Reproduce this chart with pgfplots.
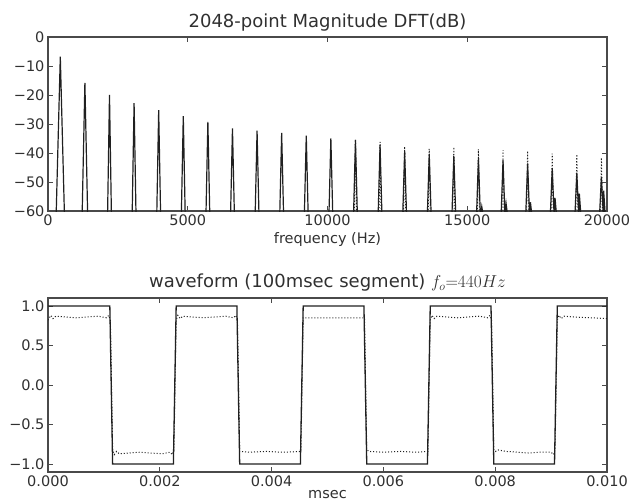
\documentclass[border=0pt]{standalone}
\usepackage{fontspec}
\setmainfont{DejaVu Sans}
\usepackage{pgfplots}
\pgfplotsset{compat=1.18}
\definecolor{axgray}{HTML}{4A4A4A}
\definecolor{txtgray}{HTML}{303030}
\definecolor{lngray}{HTML}{202020}

\pgfplotsset{
  sigax/.style={
    scale only axis, width=559pt, height=174pt,
    scaled ticks=false,
    axis line style={axgray, line width=1.1pt},
    tick style={axgray, line width=0.7pt},
    tick align=inside, tick pos=both,
    major tick length=5pt,
    tick label style={font=\fontsize{14.5}{17}\selectfont, text=txtgray},
    label style={font=\fontsize{14.5}{17}\selectfont, text=txtgray},
    title style={font=\fontsize{18}{21}\selectfont, text=txtgray},
  }
}

\begin{document}
\begin{tikzpicture}
% spectrum
\begin{axis}[sigax, at={(48pt,-211pt)}, anchor=south west,
    xmin=0, xmax=20000, ymin=-60, ymax=0,
    xtick={0,5000,10000,15000,20000},
    xticklabels={0,5000,10000,15000,20000},
    ytick={-60,-50,-40,-30,-20,-10,0},
    yticklabels={−60,−50,−40,−30,−20,−10,0},
    title={2048-point Magnitude DFT(dB)},
    title style={yshift=-4pt},
    xlabel={frequency (Hz)}]
  \addplot[lngray, line width=1.2pt] coordinates {
    (290,-62)(440,-6.8)(590,-62)
    (1220,-62)(1320,-15.8)(1420,-62)
    (2130,-62)(2200,-20)(2270,-62)
    (3010,-62)(3080,-22.8)(3150,-62)
    (3890,-62)(3960,-25.2)(4030,-62)
    (4770,-62)(4840,-27.3)(4910,-62)
    (5650,-62)(5720,-29.3)(5790,-62)
    (6530,-62)(6600,-31.5)(6670,-62)
    (7410,-62)(7480,-32.3)(7550,-62)
    (8290,-62)(8360,-33.1)(8430,-62)
    (9170,-62)(9240,-34)(9310,-62)
    (10050,-62)(10120,-35)(10190,-62)
    (10930,-62)(11000,-35.5)(11070,-62)
    (11810,-62)(11880,-37.3)(11950,-62)
    (12690,-62)(12760,-39.5)(12830,-62)
    (13570,-62)(13640,-40.4)(13710,-62)
    (14450,-62)(14520,-41)(14590,-62)
    (15330,-62)(15400,-41.8)(15470,-62)(15520,-58.5)(15580,-62)
    (16210,-62)(16280,-42.5)(16350,-62)(16390,-57.5)(16450,-62)
    (17090,-62)(17160,-43.6)(17230,-62)(17260,-57)(17320,-62)
    (17970,-62)(18040,-45.2)(18110,-62)(18140,-55.5)(18200,-62)
    (18850,-62)(18920,-46.8)(18990,-62)(19010,-54)(19070,-62)
    (19730,-62)(19800,-48.2)(19870,-62)(19880,-53)(19940,-62)
  };
  \addplot[lngray, line width=1pt, dotted] coordinates {
    (10960,-62)(11000,-35.3)(11040,-62)
    (11840,-62)(11880,-36.2)(11920,-62)
    (12720,-62)(12760,-37.8)(12800,-62)
    (13600,-62)(13640,-38.5)(13680,-62)
    (14480,-62)(14520,-38)(14560,-62)
    (15360,-62)(15400,-38.7)(15440,-62)
    (16240,-62)(16280,-39)(16320,-62)
    (17120,-62)(17160,-39.3)(17200,-62)
    (18000,-62)(18040,-40.2)(18080,-62)
    (18880,-62)(18920,-40.5)(18960,-62)
    (19760,-62)(19800,-41.6)(19840,-62)
  };
\end{axis}
% waveform
\begin{axis}[sigax, at={(48pt,-472pt)}, anchor=south west,
    xmin=0, xmax=0.01, ymin=-1.1, ymax=1.1,
    xtick={0,0.002,0.004,0.006,0.008,0.01},
    xticklabels={0.000,0.002,0.004,0.006,0.008,0.010},
    ytick={-1,-0.5,0,0.5,1},
    yticklabels={−1.0,−0.5,0.0,0.5,1.0},
    title={waveform (100msec segment) $f_o{=}440Hz$},
    title style={yshift=-3pt},
    xlabel={msec},
    xlabel style={yshift=3pt}]
  \addplot[lngray, line width=1.3pt] coordinates {
    (0,1)(0.001106,1)(0.001156,-1)(0.002243,-1)(0.002293,1)
    (0.003379,1)(0.003429,-1)(0.004515,-1)(0.004565,1)
    (0.005652,1)(0.005702,-1)(0.006788,-1)(0.006838,1)
    (0.007925,1)(0.007975,-1)(0.009061,-1)(0.009111,1)(0.01,1)
  };
  \addplot[lngray, line width=1pt, dotted] coordinates {
    (0,0.82)(0.00005,0.88)(0.00009,0.84)(0.00014,0.87)(0.0003,0.86)(0.0005,0.85)
    (0.0007,0.86)(0.0009,0.87)(0.001046,0.85)(0.001086,0.88)(0.001116,0.82)
    (0.001156,-0.82)(0.001186,-0.88)(0.001226,-0.84)(0.001276,-0.87)(0.00144,-0.86)
    (0.00164,-0.85)(0.00184,-0.86)(0.00204,-0.87)(0.002183,-0.85)(0.002223,-0.88)(0.002253,-0.82)
    (0.002293,0.82)(0.002323,0.88)(0.002363,0.84)(0.002413,0.87)(0.00258,0.86)
    (0.00278,0.85)(0.00298,0.86)(0.00318,0.87)(0.003319,0.85)(0.003359,0.88)(0.003389,0.82)
    (0.003429,-0.84)(0.0036,-0.85)(0.0039,-0.84)(0.0042,-0.85)(0.004525,-0.84)
    (0.004565,0.85)(0.0049,0.85)(0.0053,0.85)(0.005662,0.85)
    (0.005702,-0.82)(0.00575,-0.84)(0.006,-0.85)(0.0063,-0.84)(0.0066,-0.85)(0.006798,-0.84)
    (0.006838,0.82)(0.006868,0.88)(0.006908,0.84)(0.006958,0.87)(0.00712,0.86)
    (0.00732,0.85)(0.00752,0.86)(0.00772,0.87)(0.007865,0.85)(0.007905,0.88)(0.007935,0.82)
    (0.007975,-0.82)(0.008005,-0.84)(0.008045,-0.82)(0.0082,-0.84)(0.0084,-0.85)
    (0.0086,-0.86)(0.0088,-0.85)(0.009001,-0.85)(0.009041,-0.88)(0.009071,-0.82)
    (0.009111,0.82)(0.009141,0.88)(0.009181,0.84)(0.009231,0.87)(0.0094,0.86)(0.0097,0.85)(0.01,0.84)
  };
\end{axis}
\pgfresetboundingbox
\path[use as bounding box] (0,0) rectangle (632pt,-503pt);
\end{tikzpicture}
\end{document}
